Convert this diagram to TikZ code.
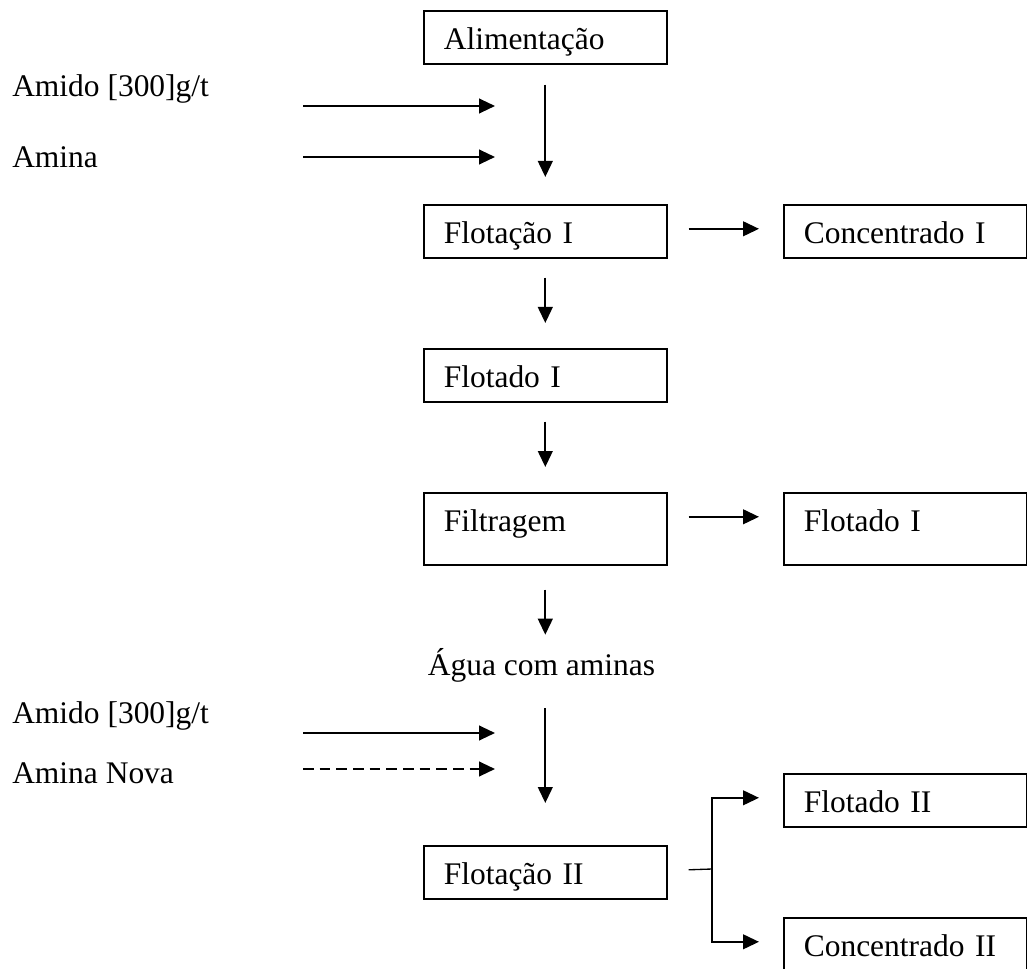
\documentclass[tikz,border=0pt]{standalone}
\usepackage{fontspec}
\setmainfont{Liberation Serif}
\usetikzlibrary{arrows.meta}

\begin{document}
\begin{tikzpicture}[
  x=0.75pt, y=-0.75pt,
  font=\fontsize{23.6}{28}\selectfont,
  box/.style={draw, line width=1.2pt, anchor=north west, align=left, text width=152.25pt, inner xsep=15pt, inner ysep=0pt, text height=29.25pt, text depth=10.5pt},
  tallbox/.style={box, text depth=24.75pt},
  tag/.style={inner sep=0pt, anchor=base west},
  arr/.style={-{Triangle[length=12pt,width=11pt]}, line width=1.6pt}
]
\useasboundingbox (0,0) rectangle (1027,969);

\node[box] (alim) at (423,10) {Alimentação};
\node[box] (flotI) at (423,204) {Flotação I};
\node[box] (concI) at (783,204) {Concentrado I};
\node[box] (flotadoI) at (423,348) {Flotado I};
\node[tallbox] (filtr) at (423,492) {Filtragem};
\node[tallbox] (flotadoIb) at (783,492) {Flotado I};
\node[tag, anchor=base, text height=15.75pt, text depth=5.25pt] (agua) at (541.5,675) {Água com aminas};
\node[box] (flotII) at (423,845) {Flotação II};
\node[box] (flotadoII) at (783,773) {Flotado II};
\node[tallbox] (concII) at (783,917) {Concentrado II};

\node[tag] (amidoA) at (12,97) {Amido [300]g/t};
\node[tag] (aminaA) at (12,168) {Amina};
\node[tag] (amidoB) at (12,723) {Amido [300]g/t};
\node[tag] (aminaB) at (12,783) {Amina Nova};

\coordinate (amidoAs) at (303,106);
\coordinate (amidoAe) at (495,106);
\coordinate (aminaAs) at (303,157);
\coordinate (aminaAe) at (495,157);
\coordinate (amidoBs) at (303,733);
\coordinate (amidoBe) at (495,733);
\coordinate (aminaBs) at (303,769);
\coordinate (aminaBe) at (495,769);
\coordinate (fork) at (712,869);

\draw[arr] (amidoAs) -- (amidoAe);
\draw[arr] (aminaAs) -- (aminaAe);
\draw[arr] (amidoBs) -- (amidoBe);
\draw[arr, dash pattern=on 8pt off 4.5pt] (aminaBs) -- (aminaBe);

\draw[arr, shorten <=15pt, shorten >=20.25pt] (alim.south) -- (flotI.north);
\draw[arr, shorten <=14.25pt, shorten >=18.75pt] (flotI.south) -- (flotadoI.north);
\draw[arr, shorten <=14.25pt, shorten >=18.75pt] (flotadoI.south) -- (filtr.north);
\draw[arr, shorten <=18pt, shorten >=14.25pt] (filtr.south) -- (filtr.south |- agua.north);
\draw[arr, shorten <=19.5pt, shorten >=31.5pt] (flotII.north |- agua.south) -- (flotII.north);

\draw[arr, shorten <=15.75pt, shorten >=18pt] ([yshift=11.25pt]flotI.base east) -- ([yshift=11.25pt]concI.base west);
\draw[arr, shorten <=15.75pt, shorten >=18pt] ([yshift=11.25pt]filtr.base east) -- ([yshift=11.25pt]flotadoIb.base west);

\draw[line width=1pt] ([xshift=15.75pt,yshift=11.25pt]flotII.base east) -- (fork);
\draw[arr, shorten >=18pt] (fork) |- ([yshift=11.25pt]flotadoII.base west);
\draw[arr, shorten >=18pt] (fork) |- ([yshift=11.25pt]concII.base west);
\end{tikzpicture}
\end{document}
